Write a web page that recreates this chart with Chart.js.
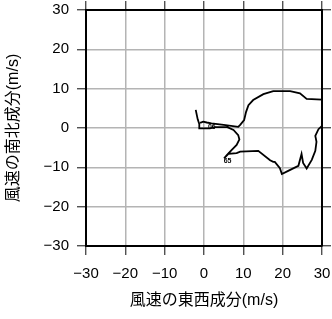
<!DOCTYPE html>
<html>
<head>
<meta charset="utf-8">
<script src="https://cdn.jsdelivr.net/npm/chart.js@4"></script>
<style>
  body { margin: 0; background: #fff; }
  #wrap { width: 332px; height: 319px; }
</style>
</head>
<body>
<div id="wrap"><canvas id="myChart"></canvas></div>
<script>
// hodograph of wind components (m/s)
const uWind = [-2.1, -1.6, -1.2, -1.2, 1.5, 2.8, 5.8, 7.5, 8.7, 9.0, 8.3, 7.0, 5.8, 5.1,
  6.2, 8.3, 9.2, 13.8, 16.8, 17.6, 18.0, 19.3, 19.8, 21.4, 24.0, 24.8, 25.2, 26.1, 27.4,
  28.3, 28.6, 28.3, 29.1, 30.0, 30.0, 26.1, 24.4, 21.9, 17.6, 15.1, 12.5, 11.3, 10.7, 10.2,
  9.2, 8.7, 5.0, 1.9, 0.7, -0.2, -1.0];
const vWind = [4.6, 2.2, 1.0, -0.1, -0.1, 0.2, 0.3, -0.5, -1.8, -2.9, -4.3, -5.6, -6.9, -7.7,
  -6.6, -6.4, -6.0, -5.8, -8.2, -8.6, -8.6, -10.2, -11.7, -10.9, -9.6, -6.6, -8.9, -10.3, -8.1,
  -5.8, -3.5, -2.0, -0.3, 0.5, 7.2, 7.4, 8.8, 9.4, 9.4, 8.6, 7.1, 5.8, 4.1, 2.0,
  0.8, 0.3, 0.8, 1.2, 1.4, 1.6, 1.3];

// small marker labels along the path
const markText = ['06', '65'];
const markU = [2.0, 6.0];
const markV = [0.25, -8.4];

const axisMin = -30;
const axisMax = 30;
const tickStep = 10;

const points = uWind.map((u, i) => ({ x: u, y: vWind[i] }));

const fam = "'Liberation Sans', 'Noto Sans CJK JP', sans-serif";
const minus = v => String(v).replace('-', '\u2212');

const markPlugin = {
  id: 'marks',
  afterDatasetsDraw(chart) {
    const ctx = chart.ctx;
    const xs = chart.scales.x, ys = chart.scales.y;
    ctx.save();
    ctx.fillStyle = '#000';
    ctx.font = 'bold 7px ' + fam;
    ctx.textAlign = 'center';
    ctx.textBaseline = 'middle';
    markText.forEach((t, i) => {
      ctx.fillText(t, xs.getPixelForValue(markU[i]), ys.getPixelForValue(markV[i]));
    });
    ctx.restore();
  }
};

const gridOpts = { color: '#b4b4b4', lineWidth: 1.5, tickColor: '#333', tickLength: 9, tickWidth: 1.2 };
const borderOpts = { color: '#000', width: 2 };

// keep the plot box fixed: no extra room for half tick labels
const noPad = s => { s.paddingLeft = 0; s.paddingRight = 0; s.paddingTop = 0; s.paddingBottom = 0; };

new Chart(document.getElementById('myChart').getContext('2d'), {
  type: 'scatter',
  data: {
    datasets: [{
      data: points,
      showLine: true,
      borderColor: '#000',
      borderWidth: 1.8,
      pointRadius: 0,
      tension: 0,
      fill: false
    }]
  },
  plugins: [markPlugin],
  options: {
    responsive: true,
    maintainAspectRatio: false,
    animation: false,
    layout: { padding: 0 },
    plugins: { legend: { display: false }, tooltip: { enabled: false } },
    scales: {
      x: {
        type: 'linear', position: 'bottom', min: axisMin, max: axisMax,
        ticks: { stepSize: tickStep, maxRotation: 0, autoSkip: false, padding: 10,
          color: '#000', font: { size: 15, family: fam }, callback: minus },
        grid: gridOpts, border: borderOpts,
        title: { display: true, text: '風速の東西成分(m/s)', color: '#000',
          font: { size: 16, family: fam }, padding: { top: 0, bottom: 9 } },
        afterFit(s) { s.height = 73; noPad(s); }
      },
      x2: {
        type: 'linear', position: 'top', min: axisMin, max: axisMax,
        ticks: { stepSize: tickStep, display: false },
        grid: Object.assign({}, gridOpts, { drawOnChartArea: false }), border: borderOpts,
        afterFit(s) { s.height = 10; noPad(s); }
      },
      y: {
        type: 'linear', position: 'left', min: axisMin, max: axisMax,
        ticks: { stepSize: tickStep, padding: 8, color: '#000',
          font: { size: 15, family: fam }, callback: minus },
        grid: gridOpts, border: borderOpts,
        title: { display: true, text: '風速の南北成分(m/s)', color: '#000',
          font: { size: 16, family: fam }, padding: { top: 4, bottom: 0 } },
        afterFit(s) { s.width = 86; noPad(s); }
      },
      y2: {
        type: 'linear', position: 'right', min: axisMin, max: axisMax,
        ticks: { stepSize: tickStep, display: false },
        grid: Object.assign({}, gridOpts, { drawOnChartArea: false }), border: borderOpts,
        afterFit(s) { s.width = 10; noPad(s); }
      }
    }
  }
});
</script>
</body>
</html>
